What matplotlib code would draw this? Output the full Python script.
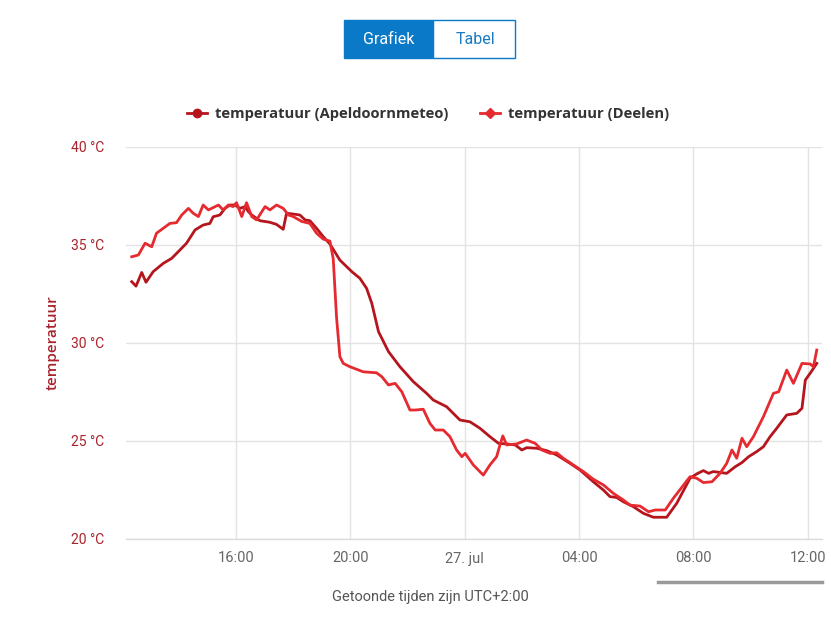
import matplotlib
matplotlib.use("Agg")
import matplotlib.pyplot as plt
import matplotlib.dates as mdates
from matplotlib.patches import Rectangle
from matplotlib.lines import Line2D
import pandas as pd

# ---- data: minutes after 26 Jul 12:00, temperature in °C ----
apeldoorn_min = [21, 30, 42, 51, 66, 87, 105, 122, 136, 154, 171, 185, 192, 206, 217, 227, 238,
                 248, 259, 266, 273, 290, 311, 325, 339, 346, 360, 374, 385, 395, 409, 423, 437,
                 458, 483, 500, 514, 525, 539, 560, 584, 612, 640, 654, 682, 696, 710, 731, 752,
                 773, 791, 808, 826, 840, 850, 871, 892, 913, 941, 962, 990, 1011, 1025, 1039,
                 1053, 1074, 1095, 1116, 1144, 1165, 1193, 1207, 1221, 1232, 1242, 1270, 1288,
                 1302, 1316, 1333, 1347, 1361, 1375, 1396, 1417, 1428, 1435, 1445, 1459]
apeldoorn_temp = [33.13, 32.9, 33.6, 33.1, 33.64, 34.06, 34.32, 34.74, 35.09, 35.77, 36.02, 36.1,
                  36.44, 36.53, 36.87, 37.04, 37.04, 36.87, 36.96, 36.7, 36.53, 36.24, 36.16,
                  36.05, 35.8, 36.62, 36.58, 36.53, 36.28, 36.24, 35.85, 35.43, 35.05, 34.23,
                  33.64, 33.3, 32.79, 32.02, 30.58, 29.56, 28.79, 28.03, 27.43, 27.09, 26.75,
                  26.41, 26.07, 25.98, 25.65, 25.22, 24.88, 24.85, 24.8, 24.54, 24.66, 24.63,
                  24.51, 24.29, 23.86, 23.52, 22.92, 22.5, 22.16, 22.12, 21.9, 21.65, 21.31,
                  21.11, 21.11, 21.82, 23.1, 23.32, 23.49, 23.35, 23.44, 23.35, 23.69, 23.9,
                  24.2, 24.46, 24.71, 25.22, 25.65, 26.33, 26.41, 26.67, 28.11, 28.45, 28.96]

deelen_min = [21, 35, 49, 63, 73, 87, 101, 115, 126, 140, 150, 161, 171, 182, 203, 213, 224, 234,
              241, 252, 262, 273, 283, 301, 311, 325, 339, 350, 360, 378, 395, 409, 423, 437, 444,
              451, 458, 465, 479, 507, 535, 546, 560, 574, 588, 605, 616, 633, 647, 658, 675, 689,
              703, 714, 721, 738, 759, 773, 787, 794, 800, 808, 829, 850, 868, 882, 899, 913, 927,
              948, 969, 990, 1011, 1032, 1053, 1067, 1088, 1106, 1120, 1141, 1158, 1193, 1207,
              1221, 1239, 1256, 1270, 1281, 1291, 1302, 1312, 1326, 1347, 1368, 1379, 1396, 1410,
              1428, 1445, 1452, 1459]
deelen_temp = [34.4, 34.49, 35.09, 34.91, 35.6, 35.85, 36.1, 36.14, 36.53, 36.87, 36.62, 36.45,
               37.04, 36.79, 37.04, 36.79, 37.04, 36.96, 37.16, 36.45, 37.16, 36.45, 36.28, 36.96,
               36.79, 37.04, 36.87, 36.53, 36.45, 36.2, 36.1, 35.6, 35.3, 35.2, 34.3, 31.3, 29.3,
               28.96, 28.79, 28.53, 28.48, 28.28, 27.86, 27.94, 27.51, 26.58, 26.58, 26.62, 25.9,
               25.56, 25.56, 25.22, 24.54, 24.2, 24.37, 23.78, 23.26, 23.78, 24.2, 24.8, 25.26,
               24.8, 24.85, 25.05, 24.88, 24.54, 24.37, 24.4, 24.12, 23.78, 23.44, 23.05, 22.76,
               22.33, 21.99, 21.73, 21.68, 21.39, 21.48, 21.48, 22.08, 23.18, 23.1, 22.88, 22.92,
               23.35, 23.86, 24.54, 24.12, 25.14, 24.71, 25.22, 26.24, 27.43, 27.51, 28.62, 27.94,
               28.96, 28.93, 28.79, 29.64]

series_names = ["temperatuur (Apeldoornmeteo)", "temperatuur (Deelen)"]
y_ticks = [20, 25, 30, 35, 40]
x_tick_times = ["2019-07-26 16:00", "2019-07-26 20:00", "2019-07-27 00:00",
                "2019-07-27 04:00", "2019-07-27 08:00", "2019-07-27 12:00"]
x_tick_labels = ["16:00", "20:00", "27. jul", "04:00", "08:00", "12:00"]
x_note = "Getoonde tijden zijn UTC+2:00"
y_title = "temperatuur"
buttons = ["Grafiek", "Tabel"]

base = pd.Timestamp("2019-07-26 12:00")
t_ap = base + pd.to_timedelta(apeldoorn_min, unit="m")
t_de = base + pd.to_timedelta(deelen_min, unit="m")

C_AP = "#b5161e"
C_DE = "#e52a30"
LABEL_RED = "#a8232b"
NARROW = ["Roboto", "DejaVu Sans"]
MAIN = ["Open Sans", "DejaVu Sans"]

W, H = 831, 621
fig = plt.figure(figsize=(W / 100, H / 100), dpi=100)
fig.patch.set_facecolor("white")

def fx(px): return px / W
def fy(py): return 1 - py / H

ax = fig.add_axes([fx(126), fy(539), fx(822) - fx(126), fy(147) - fy(539)])
ax.plot(t_ap, apeldoorn_temp, color=C_AP, lw=2.0, solid_joinstyle="round", zorder=3)
ax.plot(t_de, deelen_temp, color=C_DE, lw=2.0, solid_joinstyle="round", zorder=4)

ax.set_ylim(20, 40)
ax.set_xlim(base + pd.Timedelta(minutes=9), base + pd.Timedelta(minutes=1470))
ax.set_yticks(y_ticks)
ax.set_yticklabels([f"{v} °C" for v in y_ticks], color=LABEL_RED, fontsize=10, family=NARROW)
ax.set_xticks(mdates.date2num(pd.to_datetime(x_tick_times)))
ax.set_xticklabels(x_tick_labels, color="#666666", fontsize=10.5, family=NARROW)
ax.tick_params(axis="both", length=0)
ax.tick_params(axis="x", pad=9)
ax.tick_params(axis="y", pad=16)
ax.grid(True, color="#e3e3e3", lw=1)
ax.set_axisbelow(True)
for s in ["top", "right", "left"]:
    ax.spines[s].set_visible(False)
ax.spines["bottom"].set_color("#dcdcdc")
ax.spines["bottom"].set_linewidth(1)
ax.set_ylabel(y_title, color=LABEL_RED, fontsize=11, fontweight="semibold", family=MAIN)
ax.yaxis.set_label_coords((fx(60) - fx(126)) / (fx(822) - fx(126)), 0.5)

# legend
leg_handles = [Line2D([0], [0], color=C_AP, lw=2, marker="o", markersize=6),
               Line2D([0], [0], color=C_DE, lw=2, marker="D", markersize=5)]
leg = fig.legend(leg_handles, series_names, loc="center", bbox_to_anchor=(fx(428), fy(114)),
                 ncol=2, frameon=False, handlelength=1.4, handletextpad=0.55, columnspacing=2.1,
                 prop={"family": MAIN, "weight": "bold", "size": 10.6})
for t in leg.get_texts():
    t.set_color("#333333")

# buttons
fig.add_artist(Rectangle((fx(344), fy(58)), fx(433) - fx(344), fy(20) - fy(58),
                         transform=fig.transFigure, facecolor="#0a79c8", edgecolor="#0a79c8", lw=1))
fig.add_artist(Rectangle((fx(433), fy(58)), fx(515) - fx(433), fy(20) - fy(58),
                         transform=fig.transFigure, facecolor="white", edgecolor="#0a79c8", lw=1))
fig.text(fx(388.5), fy(39), buttons[0], color="white", fontsize=11.5, family=NARROW,
         ha="center", va="center")
fig.text(fx(475), fy(39), buttons[1], color="#1a7bbf", fontsize=11.5, family=NARROW,
         ha="center", va="center")

# scrollbar hint
fig.add_artist(Line2D([fx(658), fx(822)], [fy(582), fy(582)], transform=fig.transFigure,
                      color="#9a9a9a", lw=2.5))

fig.text(fx(430), fy(597), x_note, color="#555555", fontsize=10.5, family=NARROW,
         ha="center", va="center")

fig.savefig("out.png", dpi=100)
